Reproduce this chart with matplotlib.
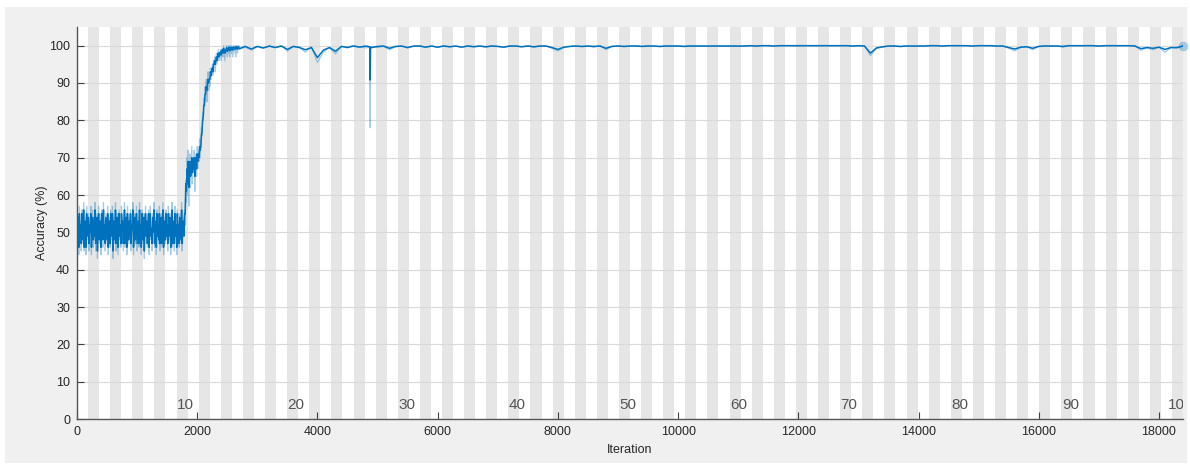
import numpy as np
import matplotlib
matplotlib.use("Agg")
import matplotlib.pyplot as plt
from matplotlib.patches import Rectangle

plt.rcParams['font.family'] = ['Liberation Sans', 'DejaVu Sans']

# ---------------- data ----------------
iters_per_epoch = 184
num_epochs = 100
epoch_labels = [10, 20, 30, 40, 50, 60, 70, 80, 90, 100]
x_ticks = [0, 2000, 4000, 6000, 8000, 10000, 12000, 14000, 16000, 18000]
y_ticks = [0, 10, 20, 30, 40, 50, 60, 70, 80, 90, 100]

# early phase, one value every 10 iterations from 0 to 1790
early_raw = [51, 46, 55, 44, 57, 49, 53, 45, 56, 50, 47, 58, 45, 52, 54, 44, 57, 48, 51, 55,
             45, 53, 49, 57, 44, 52, 56, 46, 54, 48, 58, 45, 50, 55, 43, 53, 57, 47, 51, 54,
             44, 56, 50, 46, 58, 49, 53, 45, 55, 51, 47, 57, 44, 52, 54, 46, 56, 48, 50, 57,
             43, 54, 51, 47, 58, 45, 53, 55, 44, 50, 56, 48, 52, 46, 57, 49, 54, 45, 51, 58,
             46, 52, 55, 44, 57, 50, 47, 54, 48, 56, 45, 53, 51, 58, 44, 49, 55, 47, 52, 57,
             45, 50, 54, 46, 58, 48, 53, 44, 56, 51, 47, 55, 43, 52, 57, 49, 54, 46, 50, 56,
             44, 53, 57, 48, 51, 45, 55, 50, 58, 46, 52, 54, 44, 56, 49, 53, 47, 57, 45, 51,
             55, 46, 52, 58, 44, 50, 54, 47, 56, 49, 53, 45, 57, 48, 51, 55, 44, 52, 58, 46,
             50, 54, 45, 57, 49, 52, 44, 56, 48, 53, 46, 55, 51, 47, 58, 45, 52, 54, 49, 56]
early_smooth = [50, 47, 54, 46, 55, 49, 52, 47, 55, 50, 48, 56, 46, 52, 53, 46, 55, 49, 51, 54,
                47, 52, 50, 55, 46, 51, 54, 48, 53, 49, 56, 47, 50, 54, 45, 52, 55, 48, 51, 53,
                46, 55, 50, 48, 56, 49, 52, 47, 54, 51, 48, 55, 46, 51, 53, 47, 55, 49, 50, 55,
                45, 53, 51, 48, 56, 47, 52, 54, 46, 50, 55, 49, 52, 47, 55, 50, 53, 47, 51, 56,
                47, 52, 54, 46, 55, 50, 48, 53, 49, 55, 47, 52, 51, 56, 46, 49, 54, 48, 52, 55,
                47, 50, 53, 47, 56, 49, 52, 46, 55, 51, 48, 54, 45, 52, 55, 49, 53, 47, 50, 55,
                46, 52, 55, 49, 51, 47, 54, 50, 56, 47, 52, 53, 46, 55, 49, 52, 48, 55, 47, 51,
                54, 47, 52, 56, 46, 50, 53, 48, 55, 49, 52, 47, 55, 49, 51, 54, 46, 52, 56, 47,
                50, 53, 47, 55, 49, 52, 46, 55, 49, 52, 47, 54, 51, 48, 56, 47, 52, 53, 49, 55]

# transition phase, one value every 10 iterations from 1800 to 2690
trans_raw = [52, 64, 58, 70, 60, 72, 57, 66, 71, 62, 68, 73, 63, 70, 66, 72, 61, 69, 71, 65,
             73, 67, 72, 69, 75, 70, 74, 78, 76, 82, 80, 86, 84, 89, 87, 91, 85, 90, 93, 88,
             92, 89, 94, 91, 93, 95, 92, 96, 94, 97, 93, 96, 98, 95, 97, 99, 96, 98, 97, 99,
             96, 98, 99, 97, 100, 98, 96, 99, 98, 100, 97, 99, 98, 100, 97, 99, 100, 98, 99, 97,
             100, 98, 99, 100, 97, 99, 100, 98, 99, 100]
trans_smooth = [55, 63, 61, 67, 63, 69, 62, 66, 69, 65, 67, 70, 66, 69, 67, 70, 65, 68, 70, 67,
                71, 69, 71, 70, 73, 72, 73, 76, 77, 80, 81, 84, 84, 87, 87, 89, 88, 90, 91, 90,
                91, 91, 93, 92, 93, 94, 93, 95, 95, 96, 95, 96, 97, 96, 97, 98, 97, 98, 97.5, 98.5,
                97.5, 98.5, 99, 98, 99.3, 98.6, 98, 99, 98.6, 99.5, 98.5, 99.2, 98.8, 99.6, 98.6, 99.3, 99.6, 98.9, 99.4, 98.8,
                99.6, 99, 99.3, 99.7, 99, 99.4, 99.8, 99.1, 99.4, 99.7]

# plateau phase, one value every 100 iterations from 2700 to 18400
plateau_raw = [99.0, 99.6, 98.8, 99.7, 99.3, 99.8, 99.5, 100, 98.5, 99.8, 99.6, 98.2, 99.7, 95.5, 98.2, 99.5, 97.8, 99.8, 99.6, 100,
               99.7, 99.4, 99.6, 99.5, 99.8, 98.9, 99.7, 99.9, 99.4, 99.8, 100, 99.6, 99.9, 99.5, 100, 99.7, 99.9, 99.6, 100, 99.8,
               99.9, 99.6, 100, 99.8, 99.5, 100, 99.9, 99.7, 100, 99.6, 99.9, 100, 99.3, 98.6, 99.5, 99.8, 100, 99.7, 99.9, 99.6,
               100, 98.9, 99.8, 100, 99.7, 99.9, 100, 99.8, 100, 99.9, 99.7, 100, 99.9, 100, 99.8, 100, 99.9, 100, 99.8, 100,
               100, 99.9, 100, 99.8, 100, 100, 99.9, 100, 100, 99.9, 100, 100, 100, 99.9, 100, 100, 100, 100, 100, 100,
               100, 100, 99.9, 100, 100, 97.3, 99.2, 99.6, 99.9, 100, 99.7, 100, 99.8, 100, 99.9, 100, 100, 99.9, 100, 100,
               100, 100, 99.9, 100, 100, 100, 99.9, 100, 99.3, 98.6, 99.5, 99.7, 98.9, 99.8, 100, 99.9, 100, 99.6, 100, 100,
               100, 100, 100, 99.9, 100, 100, 100, 100, 100, 100, 98.7, 99.4, 98.9, 99.6, 98.2, 99.5, 99.3, 100]
plateau_smooth = [99.2, 99.8, 99.1, 99.8, 99.4, 99.9, 99.5, 99.9, 99.0, 99.8, 99.5, 98.9, 99.5, 96.8, 98.8, 99.5, 98.5, 99.8, 99.5, 99.9,
                  99.6, 99.9, 99.5, 99.8, 99.9, 99.3, 99.8, 99.9, 99.5, 99.9, 99.9, 99.6, 99.9, 99.6, 99.9, 99.7, 99.9, 99.6, 99.9, 99.7,
                  99.9, 99.7, 99.9, 99.8, 99.6, 99.9, 99.9, 99.7, 99.9, 99.7, 99.9, 99.9, 99.5, 99.0, 99.6, 99.8, 99.9, 99.8, 99.9, 99.8,
                  99.9, 99.3, 99.8, 99.9, 99.8, 99.9, 99.9, 99.8, 99.9, 99.9, 99.8, 99.9, 99.9, 99.9, 99.8, 99.9, 99.9, 99.9, 99.9, 99.9,
                  99.9, 99.9, 99.9, 99.9, 99.9, 100, 99.9, 100, 100, 99.9, 100, 100, 100, 100, 100, 100, 100, 100, 100, 100,
                  100, 100, 99.9, 100, 99.9, 98.0, 99.4, 99.7, 99.9, 99.9, 99.8, 99.9, 99.9, 99.9, 99.9, 100, 100, 99.9, 100, 100,
                  100, 100, 99.9, 100, 100, 100, 99.9, 99.9, 99.5, 99.1, 99.6, 99.7, 99.3, 99.8, 99.9, 99.9, 99.9, 99.8, 100, 100,
                  100, 100, 100, 99.9, 100, 100, 100, 100, 100, 99.9, 99.2, 99.5, 99.3, 99.6, 99.0, 99.5, 99.5, 99.9]

# narrow drop near iteration 4880
spike_iter = [4870, 4878, 4882, 4890]
spike_raw = [99.6, 78.0, 99.0, 99.5]
spike_smooth = [99.7, 90.8, 99.2, 99.6]

early_x = np.arange(0, 1800, 10)
trans_x = np.arange(1800, 2700, 10)
plateau_x = np.arange(2700, 18401, 100)

x_all = np.concatenate([early_x, trans_x, plateau_x, spike_iter])
raw_all = np.concatenate([early_raw, trans_raw, plateau_raw, spike_raw])
smooth_all = np.concatenate([early_smooth, trans_smooth, plateau_smooth, spike_smooth])
order = np.argsort(x_all, kind="stable")
x_all, raw_all, smooth_all = x_all[order], raw_all[order], smooth_all[order]

# ---------------- figure ----------------
W, H, DPI = 1190, 465, 100
fig = plt.figure(figsize=(W / DPI, H / DPI), dpi=DPI, facecolor="white")
fig.patches.append(Rectangle((5 / W, 2 / H), 1182 / W, 456 / H, transform=fig.transFigure,
                             facecolor="#f0f0f0", edgecolor="none", zorder=-10))

ax = fig.add_axes([77 / W, 46 / H, 1106 / W, 392 / H])
ax.set_facecolor("white")

max_iter = iters_per_epoch * num_epochs
for e in range(2, num_epochs + 1, 2):
    ax.axvspan((e - 1) * iters_per_epoch, e * iters_per_epoch, facecolor="#e6e6e6",
               edgecolor="none", zorder=0)

blue = "#0072BD"
ax.plot(x_all, raw_all, color=blue, alpha=0.35, linewidth=0.9, zorder=2)
ax.plot(x_all, smooth_all, color=blue, linewidth=1.1, zorder=3)
ax.plot([x_all[-1]], [raw_all[-1]], "o", color=blue, alpha=0.3, markersize=7,
        markeredgewidth=0, zorder=4, clip_on=False)

for lab in epoch_labels:
    ax.text(lab * iters_per_epoch - 35, 1.9, str(lab), ha="center", va="bottom",
            fontsize=11, color="#555555", clip_on=True, zorder=5)

ax.set_xlim(0, max_iter)
ax.set_ylim(0, 105)
ax.set_xticks(x_ticks)
ax.set_yticks(y_ticks)
ax.tick_params(direction="in", length=5, width=0.8, colors="#404040", labelsize=9,
               labelcolor="#262626")
ax.tick_params(axis="y", pad=5)
ax.tick_params(axis="x", pad=5)
ax.yaxis.grid(True, color="#d9d9d9", linewidth=0.8)
ax.set_axisbelow(True)
for s in ["top", "right"]:
    ax.spines[s].set_visible(False)
for s in ["left", "bottom"]:
    ax.spines[s].set_color("#555555")
    ax.spines[s].set_linewidth(1.0)
    ax.spines[s].set_zorder(6)

ax.set_xlabel("Iteration", fontsize=9, color="#262626", labelpad=4)
ax.set_ylabel("Accuracy (%)", fontsize=9, color="#262626", labelpad=1)

fig.savefig("out.png", dpi=DPI, facecolor=fig.get_facecolor())
